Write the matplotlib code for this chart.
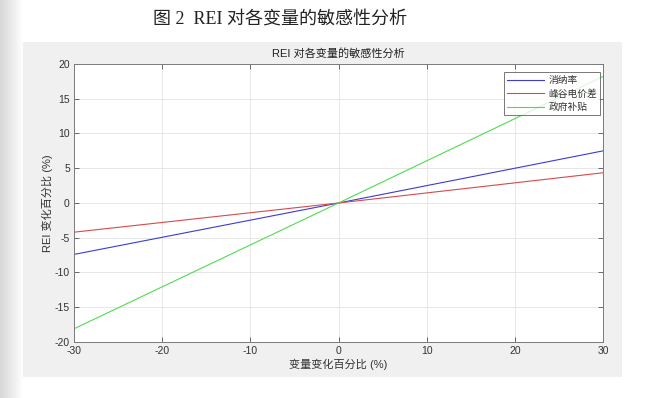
import numpy as np
import matplotlib
matplotlib.use("Agg")
import matplotlib.pyplot as plt
from matplotlib.patches import Rectangle

plt.rcParams["axes.unicode_minus"] = False

# Data
x_vals = [-30, 0, 30]
series_names = ["消纳率", "峰谷电价差", "政府补贴"]
consumption_rate = [-7.4, 0, 7.5]
peak_valley_diff = [-4.2, 0, 4.35]
gov_subsidy = [-18.1, 0, 18.2]
series_colors = ["#3b3bd6", "#d64a4a", "#4fdc4f"]
x_ticks = [-30, -20, -10, 0, 10, 20, 30]
y_ticks = [-20, -15, -10, -5, 0, 5, 10, 15, 20]

sans = ["Liberation Sans", "Noto Sans CJK SC"]
serif = ["Liberation Serif", "Noto Sans CJK SC"]

W, H = 648, 398
fig = plt.figure(figsize=(W / 100, H / 100), dpi=100)
fig.patch.set_facecolor("white")

# left shadow gradient and grey figure panel
bg = fig.add_axes([0, 0, 1, 1], zorder=-10)
bg.axis("off")
grad = np.linspace(0.84, 1.0, 24)[None, :]
bg.imshow(np.repeat(grad, 2, axis=0), cmap="gray", vmin=0, vmax=1,
          extent=[0, 24, H, 0], aspect="auto", interpolation="bilinear")
bg.add_patch(Rectangle((23, 42), 599, 335, facecolor="#f0f0f0", edgecolor="none"))
bg.set_xlim(0, W); bg.set_ylim(H, 0)

fig.text(280 / W, 1 - 20 / H, "图 2  REI 对各变量的敏感性分析", family=serif,
         fontsize=13, color="#222222", ha="center", va="center")

ax = fig.add_axes([74 / W, 1 - 342 / H, (603 - 74) / W, (342 - 64) / H])
ax.set_facecolor("white")
for vals, name, c in zip([consumption_rate, peak_valley_diff, gov_subsidy], series_names, series_colors):
    ax.plot(x_vals, vals, color=c, lw=0.8, label=name)

ax.set_xlim(-30, 30)
ax.set_ylim(-20, 20)
ax.set_xticks(x_ticks)
ax.set_yticks(y_ticks)
ax.grid(True, color="#e3e3e3", lw=0.6)
ax.set_axisbelow(True)
ax.tick_params(direction="in", length=3.5, width=0.6, color="#555555",
               top=True, right=True, labelsize=7.5, labelcolor="#333333", pad=3)
for lbl in ax.get_xticklabels() + ax.get_yticklabels():
    lbl.set_family(sans)
for s in ax.spines.values():
    s.set_color("#7a7a7a"); s.set_linewidth(0.7)

ax.set_title("REI 对各变量的敏感性分析", family=sans, fontsize=8, color="#222222", pad=5)
ax.set_xlabel("变量变化百分比 (%)", family=sans, fontsize=8, color="#333333", labelpad=2)
ax.set_ylabel("REI 变化百分比 (%)", family=sans, fontsize=8, color="#333333", labelpad=1)

leg = ax.legend(loc="upper right", bbox_to_anchor=(0.995, 0.972), prop={"family": sans, "size": 7},
                frameon=True, fancybox=False, handlelength=3.8, handletextpad=0.4,
                borderpad=0.35, labelspacing=0.35, borderaxespad=0.0)
leg.get_frame().set_edgecolor("#555555")
leg.get_frame().set_linewidth(0.7)
for t in leg.get_texts():
    t.set_color("#333333")

fig.savefig("out.png", dpi=100)
